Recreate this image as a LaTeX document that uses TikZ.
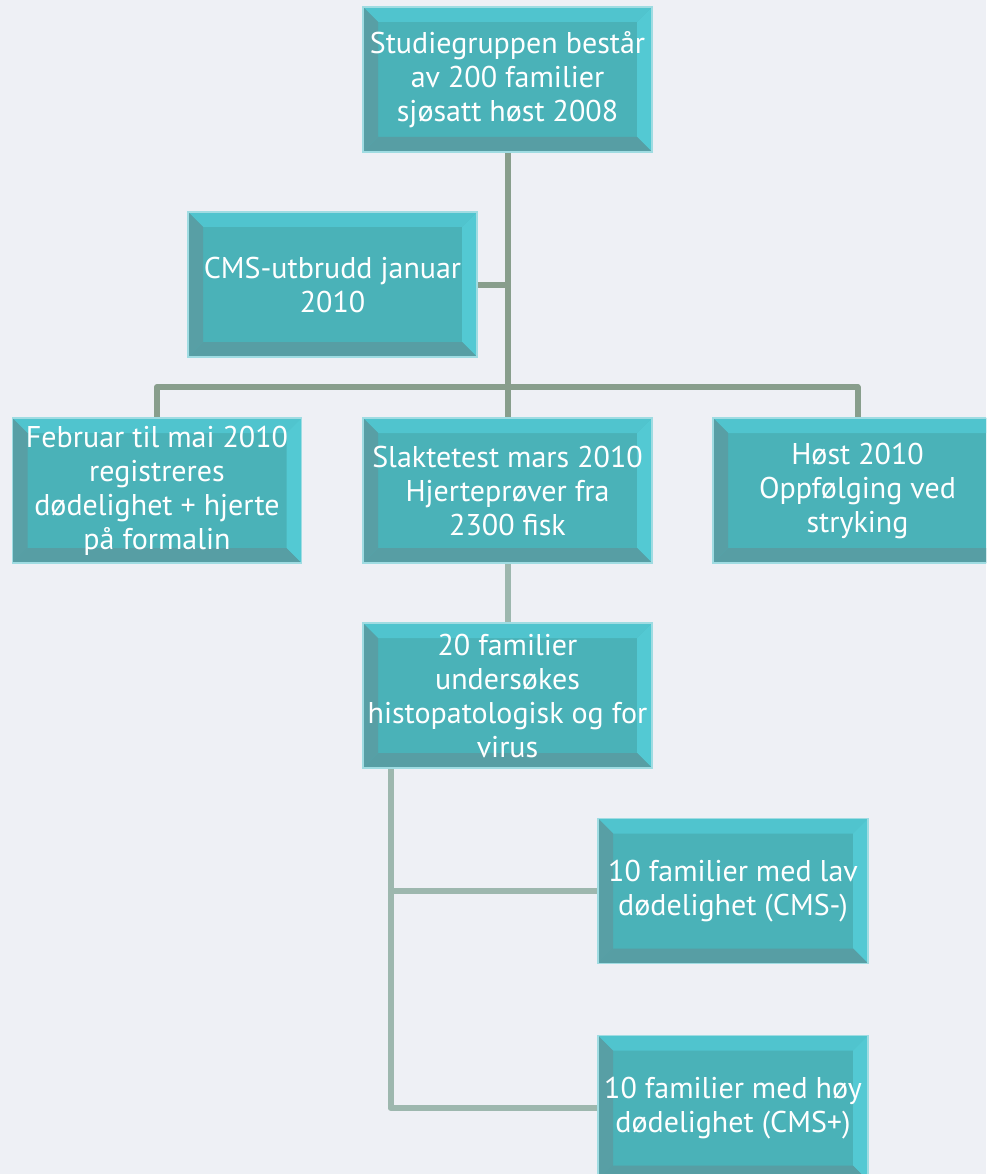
\documentclass[tikz,border=0pt]{standalone}
\usepackage{fontspec}
\setmainfont{PT Sans}
\usetikzlibrary{calc}
\definecolor{bgc}{HTML}{EEF0F5}
\definecolor{face}{HTML}{4AB2B8}
\definecolor{bevtop}{HTML}{50C4CE}
\definecolor{bevright}{HTML}{53C9D3}
\definecolor{bevleft}{HTML}{589FA5}
\definecolor{bevbot}{HTML}{579EA4}
\definecolor{rim}{HTML}{9FDCE2}
\definecolor{linedark}{HTML}{889E8C}
\definecolor{linelight}{HTML}{9DB7AE}
\pgfdeclarelayer{back}
\pgfdeclarelayer{lines}
\pgfsetlayers{back,lines,main}
\tikzset{
  bevelbox/.style={
    rectangle, draw=rim, line width=1.5pt, fill=face,
    minimum width=289pt, minimum height=145pt,
    inner sep=0pt, outer sep=0pt, align=center, text=white,
    font=\fontsize{30}{34}\selectfont,
    path picture={
      \fill[bevtop] (path picture bounding box.north west) -- (path picture bounding box.north east)
        -- ([xshift=-15pt,yshift=-15pt]path picture bounding box.north east)
        -- ([xshift=15pt,yshift=-15pt]path picture bounding box.north west) -- cycle;
      \fill[bevright] (path picture bounding box.north east) -- (path picture bounding box.south east)
        -- ([xshift=-15pt,yshift=15pt]path picture bounding box.south east)
        -- ([xshift=-15pt,yshift=-15pt]path picture bounding box.north east) -- cycle;
      \fill[bevleft] (path picture bounding box.north west) -- (path picture bounding box.south west)
        -- ([xshift=15pt,yshift=15pt]path picture bounding box.south west)
        -- ([xshift=15pt,yshift=-15pt]path picture bounding box.north west) -- cycle;
      \fill[bevbot] (path picture bounding box.south west) -- (path picture bounding box.south east)
        -- ([xshift=-15pt,yshift=15pt]path picture bounding box.south east)
        -- ([xshift=15pt,yshift=15pt]path picture bounding box.south west) -- cycle;
    }
  },
  narrowbox/.style={bevelbox, minimum width=270pt},
  conn/.style={line width=6pt, line join=round, line cap=butt},
}
\begin{document}
\begin{tikzpicture}[x=1pt, y=-1pt]
\useasboundingbox (0,0) rectangle (986,1174);
\begin{pgfonlayer}{back}
  \fill[bgc] (0,0) rectangle (986,1174);
\end{pgfonlayer}
\clip (0,0) rectangle (986,1174);

\node[bevelbox] (top) at (507.5,79.5) {Studiegruppen består\\av 200 familier\\sjøsatt høst 2008};
\node[bevelbox] (cms) at (332.5,284.5) {CMS-utbrudd januar\\2010};
\node[bevelbox] (left) at (157,490.5) {Februar til mai 2010\\registreres\\dødelighet + hjerte\\på formalin};
\node[bevelbox] (mid) at (507.5,490.5) {Slaktetest mars 2010\\Hjerteprøver fra\\2300 fisk};
\node[bevelbox] (right) at (857.5,490.5) {Høst 2010\\Oppfølging ved\\stryking};
\node[bevelbox] (fam) at (507.5,695.5) {20 familier\\undersøkes\\histopatologisk og for\\virus};
\node[narrowbox] (lav) at (733,891) {10 familier med lav\\dødelighet (CMS-)};
\node[narrowbox] (hoy) at (733,1108) {10 familier med høy\\dødelighet (CMS+)};

\coordinate (junc) at (507.5,387);
\coordinate (spine) at ([xshift=27.5pt]fam.south west);

\begin{pgfonlayer}{lines}
  \draw[conn, linedark] (top.south) -- (mid.north);
  \draw[conn, linedark] (cms.east) -- (cms.east -| top.south);
  \draw[conn, linedark] (left.north) |- (junc) -| (right.north);
  \draw[conn, linelight] (mid.south) -- (fam.north);
  \draw[conn, linelight] (spine) |- (lav.west);
  \draw[conn, linelight] (spine) |- (hoy.west);
\end{pgfonlayer}
\end{tikzpicture}
\end{document}
